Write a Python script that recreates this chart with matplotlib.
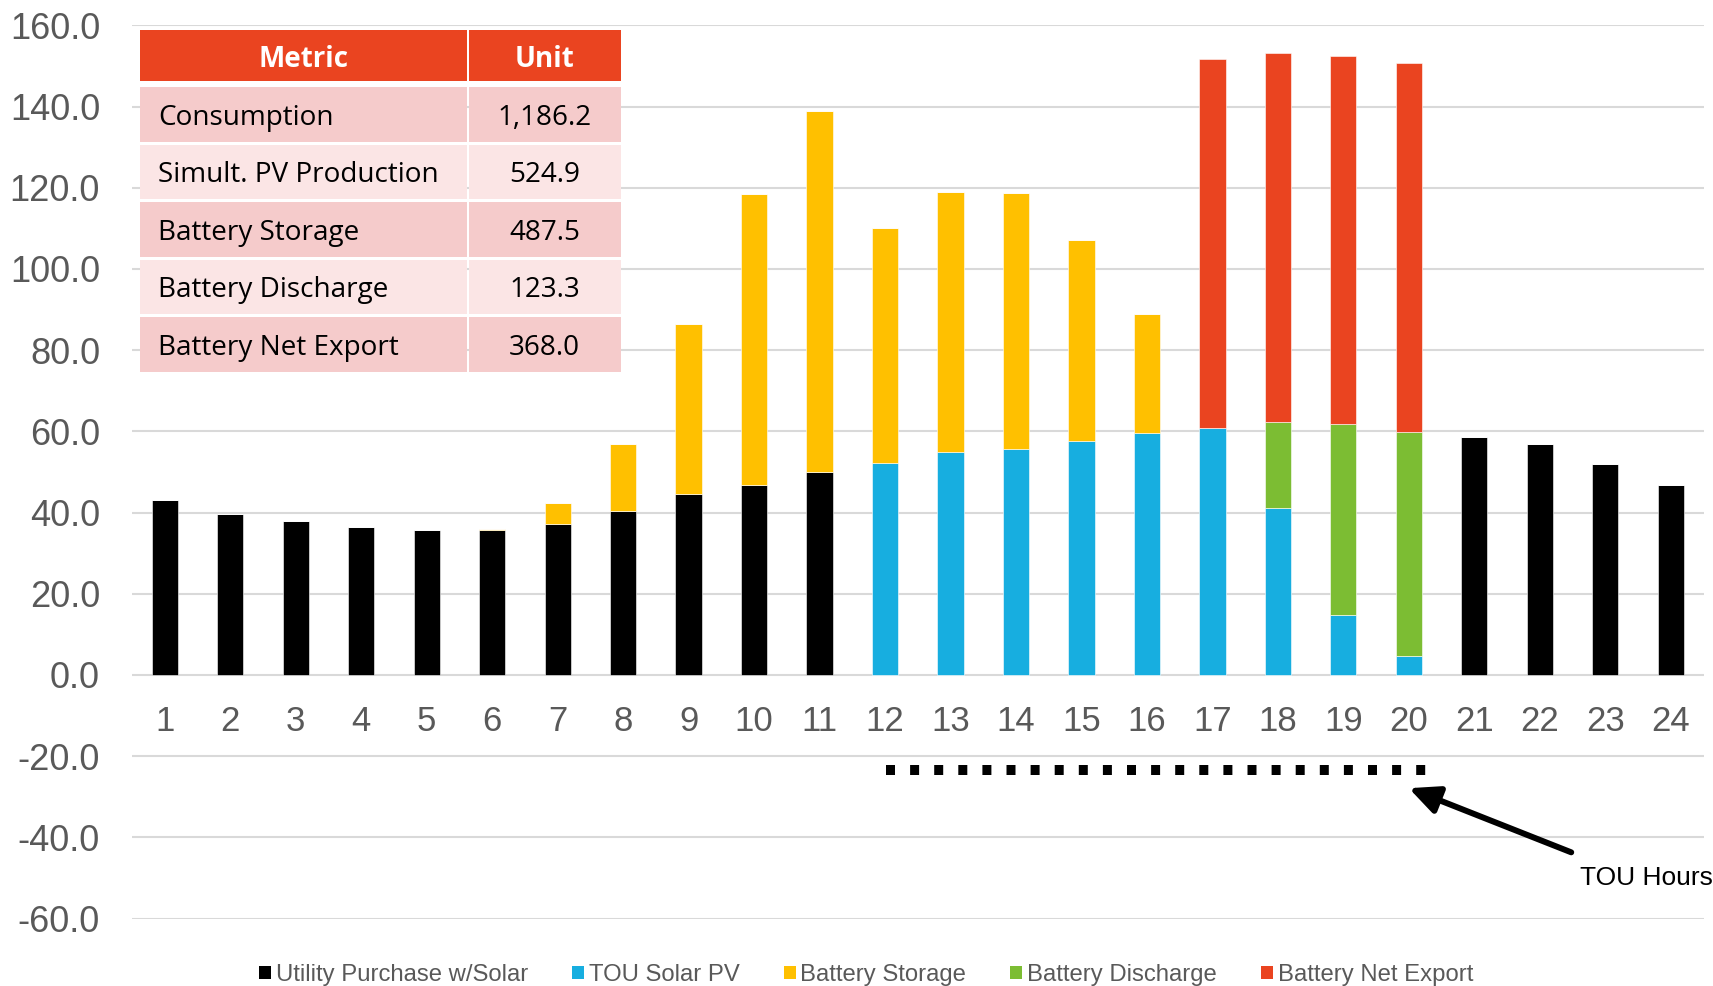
import matplotlib
matplotlib.use("Agg")
import matplotlib.pyplot as plt
from matplotlib.patches import Rectangle

# Hourly energy profile (hours 1-24)
hours = list(range(1, 25))
utility_purchase = [43.2, 39.6, 38.0, 36.5, 35.7, 35.6, 37.3, 40.5, 44.5, 46.9, 50.0,
                    0, 0, 0, 0, 0, 0, 0, 0, 0,
                    58.5, 56.8, 51.9, 46.9]
tou_solar_pv = [0] * 11 + [52.3, 54.8, 55.7, 57.6, 59.5, 60.9, 41.2, 14.8, 4.6] + [0] * 4
battery_storage = [0, 0, 0, 0, 0, 0.3, 5.0, 16.3, 41.9, 71.5, 88.8,
                   57.8, 64.1, 63.0, 49.6, 29.3,
                   0, 0, 0, 0, 0, 0, 0, 0]
battery_discharge = [0] * 17 + [21.2, 46.9, 55.3] + [0] * 4
battery_net_export = [0] * 16 + [90.8, 90.8, 90.7, 90.8] + [0] * 4

series_names = ["Utility Purchase w/Solar", "TOU Solar PV", "Battery Storage",
                "Battery Discharge", "Battery Net Export"]
series_colors = ["#000000", "#17AEE0", "#FFC000", "#7CBD33", "#EA4420"]

# Summary table
metric_names = ["Consumption", "Simult. PV Production", "Battery Storage",
                "Battery Discharge", "Battery Net Export"]
metric_values = ["1,186.2", "524.9", "487.5", "123.3", "368.0"]

# TOU window
tou_start, tou_end = 12, 20

W, H = 1713, 986
fig = plt.figure(figsize=(W / 100, H / 100), dpi=100)
ax = fig.add_axes([132 / W, 1 - 918.5 / H, (1703.5 - 132) / W, (918.5 - 25.4) / H])

axis_font = "Liberation Sans"
grey = "#595959"
bar_w = 0.40

bottom = [0.0] * 24
for vals, name, col in zip([utility_purchase, tou_solar_pv, battery_storage,
                            battery_discharge, battery_net_export],
                           series_names, series_colors):
    ax.bar(hours, vals, width=bar_w, bottom=bottom, color=col, label=name,
           edgecolor="white", linewidth=0.4, zorder=3)
    bottom = [b + v for b, v in zip(bottom, vals)]

# category axis crosses the value axis at zero
ax.spines["bottom"].set_position(("data", 0))
for s in ax.spines.values():
    s.set_visible(False)

ax.set_xlim(0.5, 24.5)
ax.set_ylim(-60, 160)
ax.set_yticks(range(-60, 161, 20))
ax.set_yticklabels([f"{v:.1f}" for v in range(-60, 161, 20)],
                   fontsize=26, color=grey, family=axis_font)
ax.set_xticks(hours)
ax.set_xticklabels([str(h) for h in hours], fontsize=25, color=grey, family=axis_font)
ax.tick_params(axis="y", length=0, pad=23)
ax.tick_params(axis="x", length=0, pad=22)
ax.grid(axis="y", color="#D9D9D9", linewidth=1.5, zorder=0)
ax.set_axisbelow(True)

# TOU hours marker line and arrow
ax.plot([tou_start + 0.02, tou_end + 0.26], [-23.4, -23.4], color="black",
        linewidth=7.2, linestyle=(0, (0.9, 1.51)), solid_capstyle="butt",
        dash_capstyle="butt", zorder=4)
ax.annotate("", xy=(tou_end, -27.9), xytext=(22.48, -43.7),
            arrowprops=dict(arrowstyle="-|>,head_length=0.9,head_width=0.42",
                            color="black", lw=4.3, mutation_scale=20,
                            shrinkA=0, shrinkB=0),
            annotation_clip=False, zorder=5)
fig.text(1713 / W, 1 - 878 / H, "TOU Hours", ha="right", va="center",
         fontsize=19, color="black", family=axis_font)

# Legend
handles = [Rectangle((0, 0), 1, 1, facecolor=c) for c in series_colors]
leg = fig.legend(handles, series_names, loc="center", bbox_to_anchor=(866 / W, 1 - 975 / H),
                 ncol=5, frameon=False, handlelength=0.5, handleheight=0.5,
                 handletextpad=0.2, columnspacing=1.85,
                 prop={"family": axis_font, "size": 17.2})
for t in leg.get_texts():
    t.set_color(grey)

# Summary table drawn in a pixel-space overlay
ov = fig.add_axes([0, 0, 1, 1])
ov.set_xlim(0, W)
ov.set_ylim(H, 0)
ov.axis("off")

table_font = "Open Sans"
c1_l, c1_r = 140.0, 466.5
c2_l, c2_r = 469.0, 620.5
hdr_top, hdr_h = 29.5, 51.0
row_top0, row_pitch, row_h = 87.0, 57.5, 54.5
hdr_color = "#EA4420"
row_colors = ["#F5CBCB", "#FBE5E5"]

ov.add_patch(Rectangle((c1_l, hdr_top), c1_r - c1_l, hdr_h, facecolor=hdr_color, edgecolor="none"))
ov.add_patch(Rectangle((c2_l, hdr_top), c2_r - c2_l, hdr_h, facecolor=hdr_color, edgecolor="none"))
ov.text((c1_l + c1_r) / 2, hdr_top + hdr_h / 2 + 1, "Metric", ha="center", va="center_baseline",
        color="white", fontsize=20, fontweight="bold", family=table_font)
ov.text((c2_l + c2_r) / 2, hdr_top + hdr_h / 2 + 1, "Unit", ha="center", va="center_baseline",
        color="white", fontsize=20, fontweight="bold", family=table_font)

for i, (name, val) in enumerate(zip(metric_names, metric_values)):
    top = row_top0 + i * row_pitch
    fc = row_colors[i % 2]
    ov.add_patch(Rectangle((c1_l, top), c1_r - c1_l, row_h, facecolor=fc, edgecolor="none"))
    ov.add_patch(Rectangle((c2_l, top), c2_r - c2_l, row_h, facecolor=fc, edgecolor="none"))
    ov.text(158.5, top + row_h / 2, name, ha="left", va="center_baseline",
            color="black", fontsize=20.1, family=table_font)
    ov.text((c2_l + c2_r) / 2, top + row_h / 2, val, ha="center", va="center_baseline",
            color="black", fontsize=20.1, family=table_font)

fig.savefig("out.png", dpi=100)
